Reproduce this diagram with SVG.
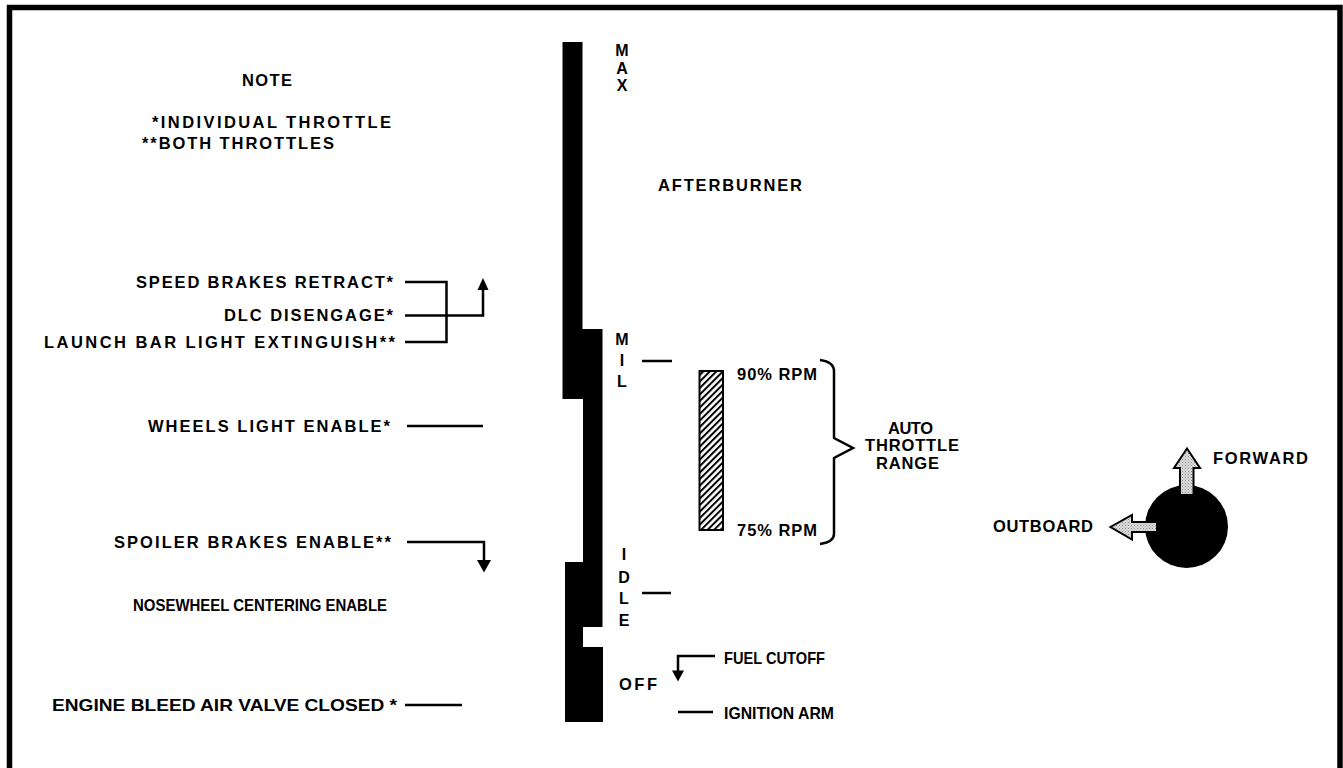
<svg xmlns="http://www.w3.org/2000/svg" width="1343" height="768" viewBox="0 0 1343 768">
<style>
text{font-family:"Liberation Sans",Arial,Helvetica,sans-serif;font-weight:bold;font-size:16.5px;fill:#000}
.v{text-anchor:middle;font-size:16px}
.ln{fill:none;stroke:#000;stroke-width:2.5}
.blk{fill:#000}
.outl{fill:url(#stip);stroke:#000;stroke-width:2;stroke-linejoin:miter}
</style>
<defs>
<pattern id="hatch" width="4.6" height="10" patternUnits="userSpaceOnUse" patternTransform="rotate(45)">
<rect width="4.6" height="10" fill="#fff"/>
<line x1="1" y1="0" x2="1" y2="10" stroke="#000" stroke-width="2"/>
</pattern>
<pattern id="stip" width="3" height="3" patternUnits="userSpaceOnUse">
<rect width="3" height="3" fill="#dcdcdc"/>
<rect x="0" y="0" width="1" height="1" fill="#8a8a8a"/>
<rect x="1.5" y="1.5" width="1" height="1" fill="#a0a0a0"/>
</pattern>
</defs>
<rect width="1343" height="768" fill="#fff"/>
<path d="M9.5,768 V7.5 H1340 V768" fill="none" stroke="#000" stroke-width="5.5"/>

<g id="note">
<text x="242" y="86" textLength="50" lengthAdjust="spacing">NOTE</text>
<text x="152" y="127.5" textLength="239" lengthAdjust="spacing">*INDIVIDUAL THROTTLE</text>
<text x="142" y="149" textLength="192" lengthAdjust="spacing">**BOTH THROTTLES</text>
</g>

<g id="throttle-track">
<path class="blk" d="M562.5,42 H582.5 V329 H602.5 V627 H583 V647 H603 V722 H565 V562 H583 V399 H562.5 Z"/>
</g>

<g id="max">
<text class="v" x="622" y="56">M</text>
<text class="v" x="622" y="73.5">A</text>
<text class="v" x="622" y="91">X</text>
</g>

<g id="afterburner">
<text x="658" y="191" textLength="144" lengthAdjust="spacing">AFTERBURNER</text>
</g>

<g id="mil">
<text class="v" x="622" y="344.5">M</text>
<text class="v" x="622" y="365.5">I</text>
<text class="v" x="622" y="387">L</text>
</g>

<g id="idle">
<text class="v" x="624" y="560">I</text>
<text class="v" x="624" y="582.5">D</text>
<text class="v" x="624" y="603.5">L</text>
<text class="v" x="624" y="625.5">E</text>
</g>

<g id="off">
<text x="619" y="690" textLength="38" lengthAdjust="spacing">OFF</text>
</g>

<g id="speed-brakes">
<text x="136" y="287.5" textLength="257" lengthAdjust="spacing">SPEED BRAKES RETRACT*</text>
</g>
<g id="dlc">
<text x="224" y="320.5" textLength="169" lengthAdjust="spacing">DLC DISENGAGE*</text>
</g>
<g id="launch-bar">
<text x="44" y="348" textLength="351" lengthAdjust="spacing">LAUNCH BAR LIGHT EXTINGUISH**</text>
</g>
<g id="wheels">
<text x="148" y="432" textLength="242" lengthAdjust="spacing">WHEELS LIGHT ENABLE*</text>
</g>
<g id="spoiler">
<text x="114" y="547.5" textLength="277" lengthAdjust="spacing">SPOILER BRAKES ENABLE**</text>
</g>
<g id="nosewheel">
<text x="133" y="610.5" textLength="254" lengthAdjust="spacingAndGlyphs">NOSEWHEEL CENTERING ENABLE</text>
</g>
<g id="bleed-air">
<text x="52" y="710.5" textLength="345" lengthAdjust="spacingAndGlyphs">ENGINE BLEED AIR VALVE CLOSED *</text>
</g>

<g id="auto-throttle">
<rect x="699.5" y="371" width="23.5" height="159" fill="url(#hatch)" stroke="#000" stroke-width="2"/>
<text x="737" y="380" textLength="80" lengthAdjust="spacing">90% RPM</text>
<text x="737" y="535.5" textLength="80" lengthAdjust="spacing">75% RPM</text>
<path class="ln" stroke-width="2" d="M820,360 Q834,362 834,371 V438 L853,448 L834,458 V534 Q834,542 820,544"/>
<text x="888" y="433.5" textLength="45" lengthAdjust="spacing">AUTO</text>
<text x="865" y="451" textLength="94" lengthAdjust="spacing">THROTTLE</text>
<text x="876" y="468.5" textLength="63" lengthAdjust="spacing">RANGE</text>
</g>

<g id="fuel-cutoff">
<text x="724" y="663.5" textLength="101" lengthAdjust="spacingAndGlyphs">FUEL CUTOFF</text>
</g>
<g id="ignition">
<text x="724" y="718.5" textLength="110" lengthAdjust="spacingAndGlyphs">IGNITION ARM</text>
</g>

<g id="direction-indicator">
<circle cx="1186.5" cy="526.5" r="41.5" fill="#000"/>
<polygon class="outl" points="1180,495 1180,468 1174,468 1187,448.5 1200,468 1193.5,468 1193.5,495"/>
<polygon class="outl" points="1157,522 1132,522 1132,515 1110.5,527 1132,539.5 1132,532 1157,532"/>
<text x="1213" y="463.5" textLength="95" lengthAdjust="spacing">FORWARD</text>
<text x="993" y="531.5" textLength="100" lengthAdjust="spacing">OUTBOARD</text>
</g>

<g id="connectors">
<path class="ln" d="M405,282 H446.5 V342 H405"/>
<path class="ln" d="M405,315.5 H483 V289"/>
<polygon class="blk" points="477.5,290 483,278 488.5,290"/>
<path class="ln" d="M407,542 H484 V561"/>
<polygon class="blk" points="477,560 484,572.5 491,560"/>
<path class="ln" d="M407,426 H483"/>
<path class="ln" d="M405,705 H462"/>
<path class="ln" d="M642,361 H672"/>
<path class="ln" d="M642,593 H671"/>
<path class="ln" d="M715,656 H678 V672"/>
<polygon class="blk" points="672,670.5 678,681.5 684,670.5"/>
<path class="ln" d="M678,712 H713"/>
</g>
</svg>
